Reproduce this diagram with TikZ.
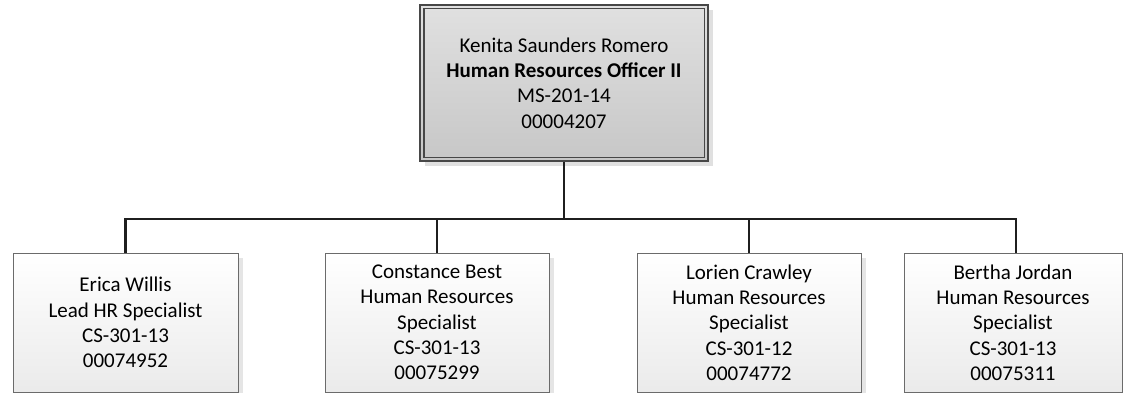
\documentclass[tikz,border=0pt]{standalone}
\usepackage{fontspec}
\setmainfont{Carlito}
\usetikzlibrary{shadows,calc}
\begin{document}
\begin{tikzpicture}[x=1pt,y=-1pt,
  boxtext/.style={font=\fontsize{21}{25.3}\selectfont, align=center, text=black},
  headbox/.style={boxtext, rectangle, draw=black!72, line width=1.2pt,
    top color=black!12, bottom color=black!22,
    minimum width=288pt, minimum height=156pt, inner sep=0pt,
    drop shadow={shadow xshift=5pt, shadow yshift=-5pt, fill=black!12, opacity=1}},
  staffbox/.style={boxtext, rectangle, draw=black!58, line width=1pt,
    top color=white, bottom color=black!8,
    minimum height=139pt, inner sep=0pt,
    drop shadow={shadow xshift=5pt, shadow yshift=-5pt, fill=black!10, opacity=1}},
  conn/.style={draw=black!88, line width=2.2pt}]
\useasboundingbox (0,0) rectangle (1123,393);

% manager
\node[headbox] (top) at (564,83)
  {Kenita Saunders Romero\\ \textbf{Human Resources Officer II}\\ MS-201-14\\ 00004207};
\draw[draw=black!72, line width=1.2pt]
  ($(top.north west)+(4.5,4.5)$) rectangle ($(top.south east)+(-4.5,-4.5)$);

% staff
\node[staffbox, minimum width=225pt] (c1) at (125.5,322.5)
  {Erica Willis\\ Lead HR Specialist\\ CS-301-13\\ 00074952};
\node[staffbox, minimum width=224pt] (c2) at (437,322.5)
  {Constance Best\\ Human Resources\\ Specialist\\ CS-301-13\\ 00075299};
\node[staffbox, minimum width=224pt] (c3) at (749,322.5)
  {Lorien Crawley\\ Human Resources\\ Specialist\\ CS-301-12\\ 00074772};
\node[staffbox, minimum width=218pt] (c4) at (1013,322.5)
  {Bertha Jordan\\ Human Resources\\ Specialist\\ CS-301-13\\ 00075311};

% reporting lines
\coordinate (bus) at ($(top.south)+(0,57)$);
\draw[conn] (top.south) -- (bus);
\draw[conn] (bus) -| (c1.north);
\draw[conn] (bus) -| (c2.north);
\draw[conn] (bus) -| (c3.north);
\draw[conn] (bus) -| ($(c4.north)+(3,0)$);
\end{tikzpicture}
\end{document}
